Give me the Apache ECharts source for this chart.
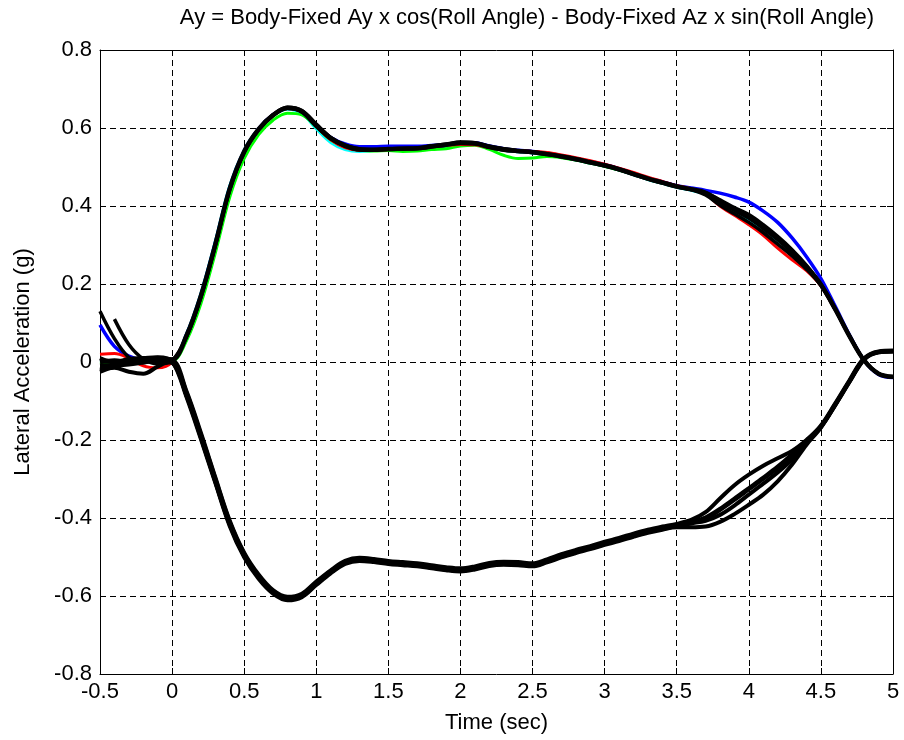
<!DOCTYPE html>
<html>
<head>
<meta charset="utf-8">
<title>Lateral Acceleration</title>
<script src="https://cdn.jsdelivr.net/npm/echarts@6/dist/echarts.min.js"></script>
<style>
  html, body { margin: 0; padding: 0; background: #fff; }
  #chart { width: 904px; height: 740px; }
</style>
</head>
<body>
<div id="chart"></div>
<script>
// shared time base (sec)
const timeSec = [
  -0.5, -0.4, -0.3, -0.2, -0.1, 0.0, 0.1, 0.2, 0.3, 0.4,
  0.5, 0.6, 0.7, 0.8, 0.9, 1.0, 1.1, 1.2, 1.3, 1.4,
  1.5, 1.6, 1.7, 1.8, 1.9, 2.0, 2.1, 2.2, 2.3, 2.4,
  2.5, 2.6, 2.7, 2.8, 2.9, 3.0, 3.1, 3.2, 3.3, 3.4,
  3.5, 3.6, 3.7, 3.8, 3.9, 4.0, 4.1, 4.2, 4.3, 4.4,
  4.5, 4.6, 4.7, 4.8, 4.9, 5.0
]

// upper (positive) group
const upperRed = [
  0.020, 0.022, 0.010, -0.010, -0.015, 0.000, 0.066, 0.168, 0.300, 0.443,
  0.538, 0.595, 0.632, 0.650, 0.641, 0.604, 0.570, 0.550, 0.543, 0.543,
  0.545, 0.546, 0.548, 0.552, 0.556, 0.558, 0.557, 0.550, 0.545, 0.542,
  0.540, 0.537, 0.531, 0.524, 0.516, 0.507, 0.497, 0.486, 0.474, 0.463,
  0.452, 0.444, 0.430, 0.400, 0.376, 0.352, 0.325, 0.292, 0.262, 0.234,
  0.195, 0.133, 0.064, 0.004, -0.030, -0.038
]
const upperGreen = [
  -0.005, 0.000, 0.003, 0.000, 0.004, 0.003, 0.055, 0.150, 0.280, 0.423,
  0.522, 0.583, 0.620, 0.638, 0.634, 0.603, 0.570, 0.552, 0.543, 0.541,
  0.542, 0.540, 0.541, 0.545, 0.547, 0.554, 0.556, 0.545, 0.530, 0.522,
  0.523, 0.527, 0.524, 0.518, 0.510, 0.502, 0.492, 0.481, 0.469, 0.459,
  0.449, 0.442, 0.433, 0.410, 0.388, 0.372, 0.346, 0.316, 0.283, 0.246,
  0.200, 0.137, 0.066, 0.004, -0.030, -0.038
]
const upperBlue = [
  0.095, 0.040, 0.015, 0.004, 0.002, 0.004, 0.070, 0.172, 0.305, 0.447,
  0.541, 0.598, 0.634, 0.651, 0.641, 0.606, 0.576, 0.559, 0.552, 0.552,
  0.553, 0.553, 0.553, 0.555, 0.558, 0.561, 0.562, 0.554, 0.547, 0.543,
  0.540, 0.535, 0.529, 0.522, 0.514, 0.506, 0.496, 0.484, 0.472, 0.462,
  0.452, 0.446, 0.440, 0.433, 0.423, 0.410, 0.387, 0.358, 0.318, 0.270,
  0.214, 0.142, 0.068, 0.004, -0.032, -0.040
]
const upperCyan = [
  0.005, 0.002, 0.004, 0.003, 0.006, 0.005, 0.072, 0.176, 0.310, 0.452,
  0.543, 0.598, 0.632, 0.648, 0.637, 0.598, 0.563, 0.545, 0.540, 0.542,
  0.544, 0.545, 0.546, 0.550, 0.553, 0.558, 0.558, 0.550, 0.543, 0.539,
  0.536, 0.531, 0.525, 0.518, 0.510, 0.502, 0.492, 0.480, 0.468, 0.458,
  0.448, 0.440, 0.430, 0.408, 0.386, 0.365, 0.340, 0.312, 0.280, 0.242,
  0.197, 0.134, 0.064, 0.004, -0.030, -0.038
]
const upperBlackA = [
  0.000, 0.004, 0.000, 0.006, 0.010, 0.006, 0.068, 0.170, 0.302, 0.445,
  0.540, 0.597, 0.633, 0.652, 0.643, 0.607, 0.574, 0.555, 0.545, 0.544,
  0.546, 0.547, 0.548, 0.553, 0.557, 0.562, 0.561, 0.552, 0.545, 0.541,
  0.538, 0.533, 0.527, 0.520, 0.512, 0.504, 0.494, 0.482, 0.470, 0.460,
  0.450, 0.443, 0.434, 0.412, 0.390, 0.370, 0.344, 0.315, 0.282, 0.244,
  0.198, 0.135, 0.065, 0.004, -0.030, -0.038
]
const upperBlackB = [
  0.130, 0.060, 0.012, -0.002, 0.008, 0.008, 0.066, 0.168, 0.300, 0.443,
  0.538, 0.596, 0.634, 0.653, 0.645, 0.610, 0.576, 0.556, 0.547, 0.545,
  0.547, 0.548, 0.549, 0.554, 0.559, 0.564, 0.562, 0.553, 0.547, 0.542,
  0.539, 0.534, 0.528, 0.521, 0.513, 0.505, 0.495, 0.483, 0.471, 0.461,
  0.451, 0.442, 0.428, 0.402, 0.380, 0.358, 0.332, 0.302, 0.272, 0.238,
  0.196, 0.134, 0.065, 0.004, -0.030, -0.038
]
const upperBlackC = [
  null, 0.110, 0.045, 0.008, -0.005, 0.004, 0.064, 0.166, 0.298, 0.441,
  0.537, 0.595, 0.632, 0.650, 0.641, 0.604, 0.572, 0.553, 0.544, 0.544,
  0.545, 0.546, 0.547, 0.551, 0.556, 0.560, 0.559, 0.550, 0.543, 0.540,
  0.537, 0.532, 0.526, 0.519, 0.511, 0.503, 0.493, 0.481, 0.469, 0.459,
  0.449, 0.442, 0.434, 0.416, 0.396, 0.378, 0.352, 0.322, 0.288, 0.248,
  0.200, 0.136, 0.066, 0.004, -0.030, -0.038
]

// lower (negative) group, all black
const lowerA = [
  -0.010, -0.008, -0.005, 0.000, 0.005, 0.000, -0.082, -0.190, -0.303, -0.414,
  -0.495, -0.550, -0.589, -0.606, -0.598, -0.567, -0.538, -0.514, -0.506, -0.509,
  -0.514, -0.517, -0.520, -0.525, -0.530, -0.533, -0.528, -0.519, -0.516, -0.517,
  -0.520, -0.510, -0.497, -0.486, -0.476, -0.465, -0.455, -0.444, -0.434, -0.426,
  -0.419, -0.411, -0.400, -0.378, -0.352, -0.325, -0.298, -0.270, -0.238, -0.203,
  -0.165, -0.108, -0.048, 0.008, 0.026, 0.028
]
const lowerB = [
  -0.020, -0.015, -0.025, -0.030, -0.012, 0.004, -0.075, -0.182, -0.296, -0.407,
  -0.489, -0.545, -0.585, -0.602, -0.594, -0.563, -0.534, -0.510, -0.502, -0.505,
  -0.510, -0.513, -0.516, -0.521, -0.526, -0.529, -0.524, -0.515, -0.512, -0.513,
  -0.516, -0.506, -0.493, -0.482, -0.472, -0.461, -0.451, -0.440, -0.430, -0.422,
  -0.415, -0.405, -0.385, -0.350, -0.316, -0.289, -0.266, -0.247, -0.228, -0.200,
  -0.165, -0.108, -0.048, 0.008, 0.026, 0.028
]
const lowerC = [
  0.010, 0.000, 0.008, 0.010, 0.012, 0.002, -0.090, -0.198, -0.310, -0.421,
  -0.501, -0.556, -0.594, -0.611, -0.603, -0.572, -0.542, -0.518, -0.510, -0.513,
  -0.518, -0.521, -0.524, -0.529, -0.534, -0.537, -0.532, -0.523, -0.520, -0.521,
  -0.524, -0.514, -0.501, -0.490, -0.480, -0.469, -0.459, -0.448, -0.438, -0.430,
  -0.424, -0.424, -0.422, -0.410, -0.390, -0.366, -0.340, -0.306, -0.263, -0.212,
  -0.168, -0.110, -0.049, 0.007, 0.025, 0.027
]
const lowerD = [
  -0.025, -0.012, 0.000, 0.004, 0.000, -0.002, -0.086, -0.192, -0.306, -0.417,
  -0.497, -0.552, -0.591, -0.608, -0.600, -0.569, -0.540, -0.516, -0.508, -0.511,
  -0.516, -0.519, -0.522, -0.527, -0.532, -0.535, -0.530, -0.521, -0.518, -0.519,
  -0.522, -0.512, -0.499, -0.488, -0.478, -0.467, -0.457, -0.446, -0.436, -0.428,
  -0.421, -0.414, -0.407, -0.392, -0.368, -0.340, -0.312, -0.283, -0.250, -0.208,
  -0.166, -0.109, -0.048, 0.008, 0.026, 0.028
]

const FONT = 'Liberation Sans, Arial, sans-serif'

function trace(values, color, width) {
  return {
    type: 'line',
    data: timeSec.map((t, i) => [t, values[i]]),
    showSymbol: false,
    smooth: 0.35,
    connectNulls: false,
    lineStyle: { color: color, width: width },
    silent: true,
  }
}

const chart = echarts.init(document.getElementById('chart'))

const tickStyle = { inside: true, length: 6, lineStyle: { color: '#000', width: 1 } }
const lineStyleAxis = { show: true, onZero: false, lineStyle: { color: '#000', width: 1 } }
const gridLine = { show: true, lineStyle: { color: '#000', width: 1, type: [6, 4] } }

chart.setOption({
  animation: false,
  backgroundColor: '#fff',
  title: {
    text: 'Ay = Body-Fixed Ay x cos(Roll Angle) - Body-Fixed Az x sin(Roll Angle)',
    left: 522,
    textAlign: 'center',
    top: 2,
    textStyle: { fontFamily: FONT, fontSize: 22, fontWeight: 'normal', color: '#000' },
  },
  grid: { left: 100, right: 11, top: 50, bottom: 66 },
  xAxis: [
    {
      type: 'value', min: -0.5, max: 5, interval: 0.5,
      name: 'Time (sec)', nameLocation: 'middle', nameGap: 38,
      nameTextStyle: { fontFamily: FONT, fontSize: 22, color: '#000' },
      axisLine: lineStyleAxis,
      axisTick: tickStyle,
      axisLabel: { fontFamily: FONT, fontSize: 22, color: '#000', margin: 7 },
      splitLine: gridLine,
    },
    {
      type: 'value', position: 'top', min: -0.5, max: 5, interval: 0.5,
      axisLine: lineStyleAxis, axisTick: tickStyle,
      axisLabel: { show: false }, splitLine: { show: false },
    },
  ],
  yAxis: [
    {
      type: 'value', min: -0.8, max: 0.8, interval: 0.2,
      name: 'Lateral Acceleration (g)', nameLocation: 'middle', nameGap: 66,
      nameTextStyle: { fontFamily: FONT, fontSize: 22, color: '#000' },
      axisLine: lineStyleAxis,
      axisTick: tickStyle,
      axisLabel: { fontFamily: FONT, fontSize: 22, color: '#000', margin: 8 },
      splitLine: gridLine,
    },
    {
      type: 'value', position: 'right', min: -0.8, max: 0.8, interval: 0.2,
      axisLine: lineStyleAxis, axisTick: tickStyle,
      axisLabel: { show: false }, splitLine: { show: false },
    },
  ],
  series: [
    trace(upperCyan, '#00ffff', 3),
    trace(upperGreen, '#00ff00', 3),
    trace(upperBlue, '#0000ff', 3.5),
    trace(upperRed, '#ff0000', 3),
    trace(upperBlackA, '#000', 4.5),
    trace(upperBlackB, '#000', 3.5),
    trace(upperBlackC, '#000', 3.5),
    trace(lowerA, '#000', 5),
    trace(lowerB, '#000', 4),
    trace(lowerC, '#000', 4),
    trace(lowerD, '#000', 4),
  ],
})
</script>
</body>
</html>
